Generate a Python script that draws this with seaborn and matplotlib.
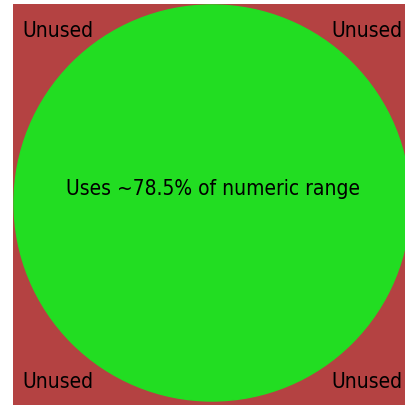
import matplotlib
matplotlib.use("Agg")
import matplotlib.pyplot as plt
import matplotlib.patches as mpatches
import seaborn as sns

# --- Data ---
corner_labels = ["Unused", "Unused", "Unused", "Unused"]
corner_x = [-0.78, 0.78, -0.78, 0.78]
corner_y = [0.87, 0.87, -0.905, -0.905]
used_fraction = [78.5]
center_label = "Uses ~{:.1f}% of numeric range".format(used_fraction[0])

UNUSED_COLOR = "#b44242"
USED_COLOR = "#22dd22"

sns.set_style("white")
plt.rcParams["font.family"] = ["DejaVu Sans"]

fig = plt.figure(figsize=(4.05, 4.05), dpi=100)
fig.patch.set_facecolor("white")

# axes deliberately runs past the right and bottom figure edges
W, H = 405.0, 405.0
px_left, px_top = 13.0, 4.0
scale = 198.0
cx, cy = 212.0, 203.0
x0 = (px_left - cx) / scale
y1 = (cy - px_top) / scale
ax_w_px, ax_h_px = 420.0, 420.0
ax = fig.add_axes([px_left / W, 1 - (px_top + ax_h_px) / H, ax_w_px / W, ax_h_px / H])
ax.set_xlim(x0, x0 + ax_w_px / scale)
ax.set_ylim(y1 - ax_h_px / scale, y1)
ax.set_facecolor(UNUSED_COLOR)
ax.set_axis_off()
ax.add_patch(mpatches.Rectangle((x0, y1 - ax_h_px / scale), ax_w_px / scale, ax_h_px / scale,
                                color=UNUSED_COLOR, zorder=0))
ax.add_patch(mpatches.Circle((0, 0), 1.0, color=USED_COLOR, zorder=1))

txt_kw = dict(ha="center", va="center", fontsize=15, color="black",
              fontstretch="condensed", zorder=3)
for lab, x, y in zip(corner_labels, corner_x, corner_y):
    ax.text(x, y, lab, **txt_kw)

ax.text(0.005, 0.07, center_label, **txt_kw)

fig.savefig("out.png", dpi=100)
